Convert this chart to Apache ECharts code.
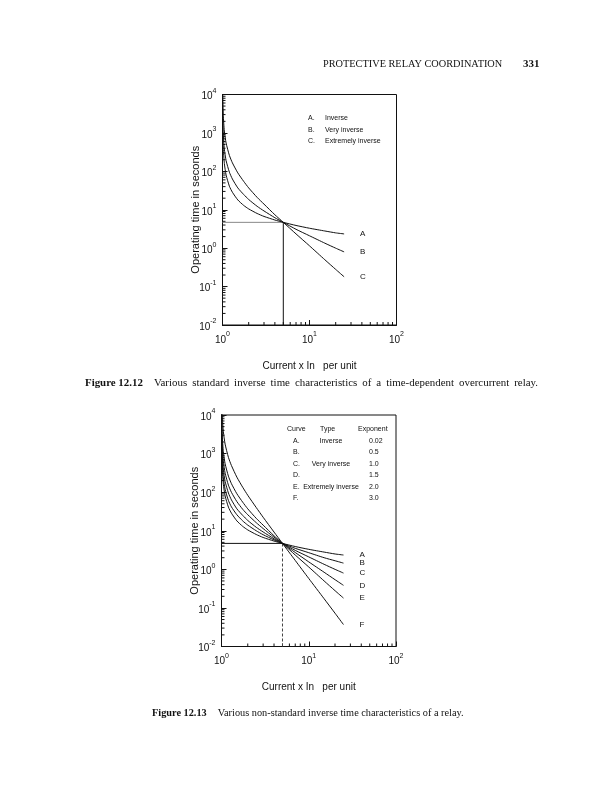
<!DOCTYPE html>
<html><head><meta charset="utf-8">
<script src="https://cdn.jsdelivr.net/npm/echarts@6/dist/echarts.min.js"></script>
<style>html,body{margin:0;padding:0;background:#fff}#c{width:615px;height:800px}</style>
</head><body><div id="c"></div>
<script>
// ---------- data ----------
const currentPU = [1.002, 1.005, 1.01, 1.02, 1.05, 1.1, 1.2, 1.3, 1.5, 1.75, 2, 2.5, 3, 4, 5, 7, 10, 15, 20, 25];

// Figure 12.12
const fig1Inverse     = [4000, 1600, 800, 400, 160, 80, 41, 28.5, 18, 13, 10.5, 8, 6.7, 5.4, 4.7, 3.9, 3.3, 2.8, 2.5, 2.35];
const fig1VeryInverse = [9000, 3800, 1900, 950, 380, 190, 95, 63, 37, 25, 18.5, 12.3, 9.3, 6.2, 4.7, 3.1, 2.1, 1.35, 1.0, 0.8];
const fig1ExtInverse  = [22000, 11500, 5700, 2850, 1120, 545, 260, 166, 91, 55, 37, 21, 14, 7.4, 4.7, 2.35, 1.15, 0.5, 0.28, 0.18];
const fig1Letters = ['A', 'B', 'C'];
const fig1LegendLetters = ['A.', 'B.', 'C.'];
const fig1LegendTypes = ['Inverse', 'Very inverse', 'Extremely inverse'];

// Figure 12.13
const fig2A = [4000, 1600, 800, 400, 160, 80, 41, 28.5, 18, 13, 10.5, 8, 6.7, 5.4, 4.7, 3.9, 3.3, 2.8, 2.5, 2.35];
const fig2B = [5800, 2330, 1165, 584, 235, 119, 61, 41.5, 26, 18, 14, 10, 7.9, 5.8, 4.7, 3.5, 2.7, 2.0, 1.67, 1.45];
const fig2C = [9000, 3800, 1900, 950, 380, 190, 95, 63, 37, 25, 18.5, 12.3, 9.3, 6.2, 4.7, 3.1, 2.1, 1.35, 1.0, 0.8];
const fig2D = [16000, 6400, 3170, 1590, 630, 311, 152, 99, 57, 36, 26, 16.2, 11.4, 6.8, 4.7, 2.73, 1.56, 0.84, 0.54, 0.385];
const fig2E = [22000, 11500, 5700, 2850, 1120, 545, 260, 166, 91, 55, 37, 21, 14, 7.4, 4.7, 2.35, 1.15, 0.5, 0.28, 0.18];
const fig2F = [97000, 38700, 19200, 9500, 3700, 1760, 800, 490, 245, 134, 83, 40, 22.4, 9.25, 4.7, 1.7, 0.58, 0.173, 0.073, 0.037];
const fig2Letters = ['A', 'B', 'C', 'D', 'E', 'F'];
const fig2TableHeader = ['Curve', 'Type', 'Exponent'];
const fig2TableLetters = ['A.', 'B.', 'C.', 'D.', 'E.', 'F.'];
const fig2TableTypes = ['Inverse', '', 'Very inverse', '', 'Extremely inverse', ''];
const fig2TableExponents = ['0.02', '0.5', '1.0', '1.5', '2.0', '3.0'];

// reference point (pick-up setting)
const refCurrent = 5;
const refTime = 4.7;

// axes
const xMin = 1, xMax = 100, yMin = 0.01, yMax = 10000;
const xMinorTicks = [2,3,4,5,6,7,8,9,20,30,40,50,60,70,80,90];
const yMinorTicks = [];
[0.01, 0.1, 1, 10, 100, 1000].forEach(d => { for (let k = 2; k <= 9; k++) yMinorTicks.push(+(d * k).toPrecision(3)); });

const xAxisTitle = 'Current x In   per unit';
const yAxisTitle = 'Operating time in seconds';
const headerText = 'PROTECTIVE RELAY COORDINATION';
const pageNumber = '331';
const caption1Label = 'Figure 12.12';
const caption1Text = 'Various standard inverse time characteristics of a time-dependent overcurrent relay.';
const caption2Label = 'Figure 12.13';
const caption2Text = 'Various non-standard inverse time characteristics of a relay.';

// ---------- chart ----------
const SANS = 'Liberation Sans, Arial, sans-serif';
const SERIF = 'Liberation Serif, Times New Roman, serif';
const INK = '#111';

const chart = echarts.init(document.getElementById('c'), null, { renderer: 'canvas' });

function pow10Label(v) {
  const e = Math.round(Math.log10(v));
  return '{b|10}{s|' + e + '}';
}
const powRich = {
  b: { fontSize: 10, lineHeight: 14, verticalAlign: 'bottom', fontFamily: SANS, color: INK },
  s: { fontSize: 7, lineHeight: 8, verticalAlign: 'top', fontFamily: SANS, color: INK }
};

function makeX(gi) {
  return {
    type: 'log', logBase: 10, gridIndex: gi, min: xMin, max: xMax,
    axisLine: { show: true, lineStyle: { color: INK, width: 1 } },
    axisTick: { show: true, inside: true, length: 5, lineStyle: { color: INK } },
    minorTick: { show: false }, splitLine: { show: false },
    axisLabel: { formatter: pow10Label, rich: powRich, margin: 6 },
    name: xAxisTitle, nameLocation: 'middle', nameGap: 36, nameMoveOverlap: false,
    nameTextStyle: { fontFamily: SANS, fontSize: 10, color: INK }
  };
}
function makeY(gi) {
  return {
    type: 'log', logBase: 10, gridIndex: gi, min: yMin, max: yMax,
    axisLine: { show: true, lineStyle: { color: INK, width: 1 } },
    axisTick: { show: true, inside: true, length: 5, lineStyle: { color: INK } },
    minorTick: { show: false }, splitLine: { show: false },
    axisLabel: { formatter: pow10Label, rich: powRich, margin: 6 },
    name: yAxisTitle, nameLocation: 'middle', nameGap: 21, nameMoveOverlap: false,
    nameTextStyle: { fontFamily: SANS, fontSize: 11, color: INK }
  };
}

function curve(gi, name, ys, letter) {
  return {
    type: 'line', name: name, xAxisIndex: gi, yAxisIndex: gi,
    data: currentPU.map((x, i) => [x, ys[i]]),
    showSymbol: false, smooth: 0.2, clip: true,
    lineStyle: { color: INK, width: 1 },
    endLabel: { show: true, formatter: letter, distance: 16, fontFamily: SANS, fontSize: 8, color: INK },
    silent: true, z: 3
  };
}
function refLines(gi, hColor, vColor, vType) {
  return [
    { type: 'line', xAxisIndex: gi, yAxisIndex: gi, data: [[xMin, refTime], [refCurrent, refTime]],
      showSymbol: false, lineStyle: { color: hColor, width: 1 }, silent: true, z: 2 },
    { type: 'line', xAxisIndex: gi, yAxisIndex: gi, data: [[refCurrent, yMin], [refCurrent, refTime]],
      showSymbol: false, lineStyle: { color: vColor, width: 1, type: vType }, silent: true, z: 2 }
  ];
}
function minorTicks(gi) {
  return [
    { type: 'custom', xAxisIndex: gi, yAxisIndex: gi, silent: true, clip: false,
      data: xMinorTicks.map(v => [v, yMin]),
      renderItem: (p, api) => { const c = api.coord([api.value(0), api.value(1)]);
        return { type: 'line', shape: { x1: c[0], y1: c[1], x2: c[0], y2: c[1] - 3 }, style: { stroke: INK, lineWidth: 1 } }; } },
    { type: 'custom', xAxisIndex: gi, yAxisIndex: gi, silent: true, clip: false,
      data: yMinorTicks.map(v => [xMin, v]),
      renderItem: (p, api) => { const c = api.coord([api.value(0), api.value(1)]);
        return { type: 'line', shape: { x1: c[0], y1: c[1], x2: c[0] + 3, y2: c[1] }, style: { stroke: INK, lineWidth: 1 } }; } }
  ];
}

function txt(x, y, text, style) {
  return { type: 'text', x: x, y: y, silent: true,
    style: Object.assign({ text: text, fill: INK, font: '7px ' + SANS, textVerticalAlign: 'middle' }, style || {}) };
}

const measureCtx = document.createElement('canvas').getContext('2d');
function textWidth(s, font) { measureCtx.font = font; return measureCtx.measureText(s).width; }

const graphics = [];
// page header
graphics.push(txt(323, 64, headerText, { font: '10.3px ' + SERIF }));
graphics.push(txt(523, 64, pageNumber, { font: 'bold 11px ' + SERIF }));

// captions
function caption(x0, x1, y, label, text, size, justify) {
  const capFont = size + 'px ' + SERIF, capBold = 'bold ' + size + 'px ' + SERIF;
  graphics.push(txt(x0, y, label, { font: capBold }));
  let x = x0 + textWidth(label, capBold) + 11;
  if (!justify) { graphics.push(txt(x, y, text, { font: capFont })); return; }
  const words = text.split(' ');
  const ws = words.map(w => textWidth(w, capFont));
  const gap = (x1 - x - ws.reduce((a, b) => a + b, 0)) / (words.length - 1);
  words.forEach((w, i) => { graphics.push(txt(x, y, w, { font: capFont })); x += ws[i] + gap; });
}
caption(85, 538, 383, caption1Label, caption1Text, 10.9, true);
caption(152, 463, 713, caption2Label, caption2Text, 10.3, false);

// figure 1 legend
const fig1LegendY = [118.5, 130, 141.5];
fig1LegendLetters.forEach((l, i) => {
  graphics.push(txt(308, fig1LegendY[i], l));
  graphics.push(txt(325, fig1LegendY[i], fig1LegendTypes[i]));
});
// figure 2 table
graphics.push(txt(287, 429, fig2TableHeader[0]));
graphics.push(txt(320, 429, fig2TableHeader[1]));
graphics.push(txt(358, 429, fig2TableHeader[2]));
const fig2RowY = [441, 452.5, 464, 475.5, 487, 498];
fig2TableLetters.forEach((l, i) => {
  graphics.push(txt(293, fig2RowY[i], l));
  if (fig2TableTypes[i]) graphics.push(txt(331, fig2RowY[i], fig2TableTypes[i], { textAlign: 'center' }));
  graphics.push(txt(369, fig2RowY[i], fig2TableExponents[i]));
});

const grid1 = { left: 222.5, top: 94.5, width: 174, height: 230.5 };
const grid2 = { left: 221.5, top: 415, width: 174.5, height: 231.5 };

const option = {
  animation: false,
  backgroundColor: '#fff',
  grid: [grid1, grid2].map(g => Object.assign({ show: true, borderColor: INK, borderWidth: 1, backgroundColor: 'transparent' }, g)),
  xAxis: [makeX(0), makeX(1)],
  yAxis: [makeY(0), makeY(1)],
  graphic: graphics,
  series: [
    ...refLines(0, '#888', INK, 'solid'),
    curve(0, 'Inverse', fig1Inverse, fig1Letters[0]),
    curve(0, 'Very inverse', fig1VeryInverse, fig1Letters[1]),
    curve(0, 'Extremely inverse', fig1ExtInverse, fig1Letters[2]),
    ...minorTicks(0),
    ...refLines(1, INK, '#444', [3, 2]),
    curve(1, 'A', fig2A, fig2Letters[0]),
    curve(1, 'B', fig2B, fig2Letters[1]),
    curve(1, 'C', fig2C, fig2Letters[2]),
    curve(1, 'D', fig2D, fig2Letters[3]),
    curve(1, 'E', fig2E, fig2Letters[4]),
    curve(1, 'F', fig2F, fig2Letters[5]),
    ...minorTicks(1)
  ]
};
chart.setOption(option);
</script>
</body></html>
